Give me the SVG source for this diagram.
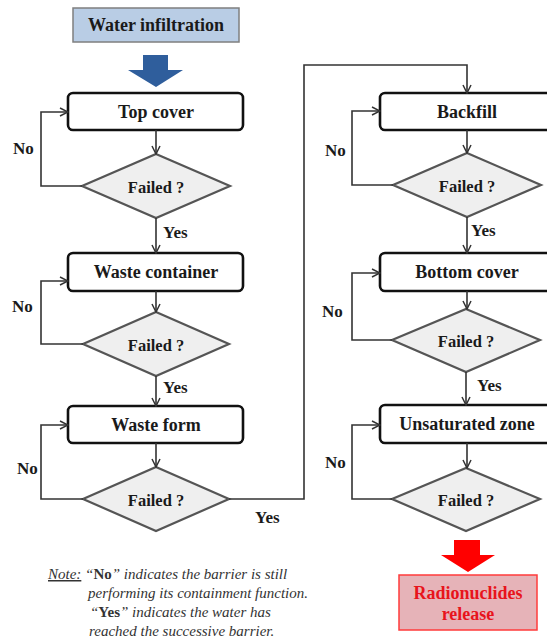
<svg xmlns="http://www.w3.org/2000/svg" width="547" height="640" viewBox="0 0 547 640">
  <style>
    .box { fill: #ffffff; stroke: #111111; stroke-width: 2.6; }
    .dia { fill: #efefef; stroke: #555555; stroke-width: 2.2; }
    .lbl { font-family: "Liberation Serif", "Times New Roman", serif; font-weight: bold; font-size: 18px; fill: #1a1a1a; text-anchor: middle; dominant-baseline: central; }
    .q { font-family: "Liberation Serif", "Times New Roman", serif; font-weight: bold; font-size: 16.5px; fill: #1a1a1a; text-anchor: middle; dominant-baseline: central; }
    .yn { font-family: "Liberation Serif", "Times New Roman", serif; font-weight: bold; font-size: 17px; fill: #1a1a1a; dominant-baseline: central; }
    .conn { fill: none; stroke: #333333; stroke-width: 1.6; marker-end: url(#chev); }
    .note { font-family: "Liberation Serif", "Times New Roman", serif; font-style: italic; font-size: 15px; fill: #333333; }
  </style>
  <defs>
    <marker id="chev" viewBox="0 0 10 10" refX="9" refY="5" markerWidth="10" markerHeight="10" markerUnits="userSpaceOnUse" orient="auto">
      <path d="M1,1 L9,5 L1,9" fill="none" stroke="#333333" stroke-width="1.5"/>
    </marker>
  </defs>

  <!-- source -->
  <g id="water-infiltration">
    <rect x="73" y="8" width="166" height="34" fill="#b9cde5" stroke="#7f7f7f" stroke-width="1.5"/>
    <text class="lbl" x="156" y="25">Water infiltration</text>
  </g>
  <g id="inflow-arrow">
    <polygon points="143,55 168,55 168,70 183,70 156,87 128,70 143,70" fill="#2f5e9c"/>
  </g>

  <!-- left column -->
  <g id="top-cover">
    <rect class="box" x="68" y="93" width="175" height="37" rx="5"/>
    <text class="lbl" x="156" y="112">Top cover</text>
  </g>
  <g id="failed-1">
    <polygon class="dia" points="156,154 230,186 156,218 82,186"/>
    <text class="q" x="156" y="187">Failed ?</text>
  </g>
  <g id="waste-container">
    <rect class="box" x="68" y="253" width="175" height="38" rx="5"/>
    <text class="lbl" x="156" y="272">Waste container</text>
  </g>
  <g id="failed-2">
    <polygon class="dia" points="156,312 229,344 156,376 83,344"/>
    <text class="q" x="156" y="345">Failed ?</text>
  </g>
  <g id="waste-form">
    <rect class="box" x="68" y="406" width="175" height="37" rx="5"/>
    <text class="lbl" x="156" y="425">Waste form</text>
  </g>
  <g id="failed-3">
    <polygon class="dia" points="156,467 229,499 156,531 83,499"/>
    <text class="q" x="156" y="500">Failed ?</text>
  </g>

  <!-- right column -->
  <g id="backfill">
    <rect class="box" x="380" y="93" width="178" height="37" rx="5"/>
    <text class="lbl" x="467" y="112">Backfill</text>
  </g>
  <g id="failed-4">
    <polygon class="dia" points="467,153 541,185 467,217 393,185"/>
    <text class="q" x="467" y="186">Failed ?</text>
  </g>
  <g id="bottom-cover">
    <rect class="box" x="380" y="253" width="178" height="38" rx="5"/>
    <text class="lbl" x="467" y="272">Bottom cover</text>
  </g>
  <g id="failed-5">
    <polygon class="dia" points="466,309 540,340 466,372 392,340"/>
    <text class="q" x="466" y="341">Failed ?</text>
  </g>
  <g id="unsaturated-zone">
    <rect class="box" x="380" y="405" width="178" height="38" rx="5"/>
    <text class="lbl" x="467" y="424">Unsaturated zone</text>
  </g>
  <g id="failed-6">
    <polygon class="dia" points="466,468 540,499 466,531 392,499"/>
    <text class="q" x="466" y="500">Failed ?</text>
  </g>

  <!-- release -->
  <g id="release-arrow">
    <polygon points="454,540 480,540 480,555 495,555 468,572 441,555 454,555" fill="#ff0000"/>
  </g>
  <g id="radionuclides-release">
    <rect x="399" y="575" width="138" height="55" fill="#e6b3b8" stroke="#ff3b3b" stroke-width="1.5"/>
    <text class="lbl" x="468" y="593" style="fill:#e8141c">Radionuclides</text>
    <text class="lbl" x="468" y="614" style="fill:#e8141c">release</text>
  </g>

  <!-- connectors -->
  <g id="connectors">
    <path class="conn" d="M156,130 V154"/>
    <path class="conn" d="M156,218 V253"/>
    <path class="conn" d="M82,186 H41 V112 H68"/>
    <path class="conn" d="M156,291 V312"/>
    <path class="conn" d="M156,376 V406"/>
    <path class="conn" d="M83,344 H41 V281 H68"/>
    <path class="conn" d="M156,443 V467"/>
    <path class="conn" d="M83,499 H41 V425 H68"/>
    <path class="conn" d="M229,499 H304 V65 H467 V93"/>
    <path class="conn" d="M467,130 V153"/>
    <path class="conn" d="M467,217 V253"/>
    <path class="conn" d="M393,185 H352 V111 H380"/>
    <path class="conn" d="M467,291 V309"/>
    <path class="conn" d="M466,372 V405"/>
    <path class="conn" d="M392,340 H352 V273 H380"/>
    <path class="conn" d="M467,443 V468"/>
    <path class="conn" d="M392,499 H352 V425 H380"/>
  </g>

  <!-- branch labels -->
  <g id="branch-labels">
    <text class="yn" x="13" y="148">No</text>
    <text class="yn" x="163" y="232">Yes</text>
    <text class="yn" x="12" y="306">No</text>
    <text class="yn" x="163" y="387">Yes</text>
    <text class="yn" x="17" y="468">No</text>
    <text class="yn" x="255" y="517">Yes</text>
    <text class="yn" x="325" y="150">No</text>
    <text class="yn" x="471" y="230">Yes</text>
    <text class="yn" x="322" y="311">No</text>
    <text class="yn" x="477" y="385">Yes</text>
    <text class="yn" x="325" y="462">No</text>
  </g>

  <!-- footnote -->
  <g id="note">
    <text class="note" x="48" y="579"><tspan text-decoration="underline">Note:</tspan> “<tspan font-style="normal" font-weight="bold">No</tspan>” indicates the barrier is still</text>
    <text class="note" x="88" y="598">performing its containment function.</text>
    <text class="note" x="90" y="617">“<tspan font-style="normal" font-weight="bold">Yes</tspan>” indicates the water has</text>
    <text class="note" x="89" y="636">reached the successive barrier.</text>
  </g>
</svg>
